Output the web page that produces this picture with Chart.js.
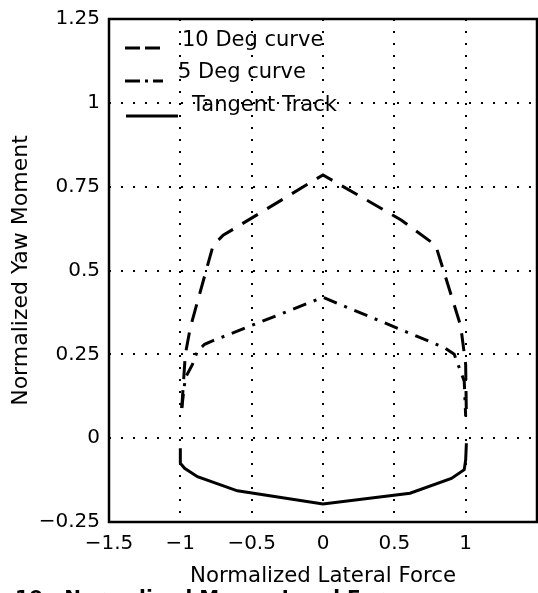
<!DOCTYPE html>
<html>
<head>
<meta charset="utf-8">
<script src="https://cdn.jsdelivr.net/npm/chart.js@4.4.1/dist/chart.umd.min.js"></script>
<style>
  html, body { margin: 0; padding: 0; background: #fff; overflow: hidden; }
  canvas { display: block; }
</style>
</head>
<body>
<canvas id="envelopeChart" width="538" height="593"></canvas>
<script>
// Yaw moment / lateral force envelopes (normalized)
const tenDegX = [-0.99, -0.965, -0.93, -0.77, -0.70, 0.00, 0.55, 0.79, 0.965, 1.00, 1.005];
const tenDegY = [0.09, 0.25, 0.33, 0.575, 0.605, 0.785, 0.65, 0.575, 0.335, 0.22, 0.065];

const fiveDegX = [-0.99, -0.965, -0.915, -0.88, -0.83, -0.775, 0.00, 0.85, 0.92, 0.99, 1.00];
const fiveDegY = [0.09, 0.18, 0.22, 0.26, 0.28, 0.29, 0.42, 0.27, 0.25, 0.17, 0.065];

const tangentX = [-1.00, -1.00, -0.97, -0.88, -0.60, 0.00, 0.61, 0.90, 0.99, 1.00, 1.005];
const tangentY = [-0.03, -0.075, -0.09, -0.115, -0.157, -0.196, -0.164, -0.12, -0.094, -0.065, -0.015];

const seriesLabels = ['10 Deg curve', '5 Deg curve', 'Tangent Track'];

const xTicks = [-1.5, -1, -0.5, 0, 0.5, 1];
const yTicks = [-0.25, 0, 0.25, 0.5, 0.75, 1, 1.25];

const FONT = '"DejaVu Sans", sans-serif';

function toPoints(xs, ys) {
    return xs.map((x, i) => ({ x: x, y: ys[i] }));
}

function fmt(v) {
    return String(v).replace('-', '\u2212');
}

// Box around the plot area
const framePlugin = {
    id: 'frame',
    afterDatasetsDraw(chart) {
        const { ctx, chartArea: a } = chart;
        ctx.save();
        ctx.strokeStyle = '#000';
        ctx.lineWidth = 2.5;
        ctx.strokeRect(a.left, a.top, a.right - a.left, a.bottom - a.top);
        ctx.restore();
    }
};

// Legend drawn inside the axes, no box
const legendLayout = [
    { x0: 16, x1: 51, lineY: 29, textX: 73, textY: 22 },
    { x0: 16, x1: 54, lineY: 62, textX: 69, textY: 54 },
    { x0: 17, x1: 69, lineY: 97, textX: 83, textY: 87 }
];

const insideLegend = {
    id: 'insideLegend',
    afterDraw(chart) {
        const { ctx, chartArea: a } = chart;
        ctx.save();
        chart.data.datasets.forEach((ds, i) => {
            const p = legendLayout[i];
            ctx.strokeStyle = ds.borderColor;
            ctx.lineWidth = ds.borderWidth;
            ctx.setLineDash(ds.legendDash || []);
            ctx.beginPath();
            ctx.moveTo(a.left + p.x0, a.top + p.lineY);
            ctx.lineTo(a.left + p.x1, a.top + p.lineY);
            ctx.stroke();
            ctx.setLineDash([]);
            ctx.fillStyle = '#000';
            ctx.font = '21px ' + FONT;
            ctx.textBaseline = 'middle';
            ctx.textAlign = 'left';
            ctx.fillText(ds.label, a.left + p.textX, a.top + p.textY);
        });
        ctx.restore();
    }
};

// Figure caption under the axes (runs off the page)
const captionPlugin = {
    id: 'caption',
    afterDraw(chart) {
        const { ctx } = chart;
        ctx.save();
        ctx.fillStyle = '#000';
        ctx.font = 'bold 20px ' + FONT;
        ctx.textBaseline = 'alphabetic';
        ctx.fillText('10.  Normalized Moment and Force', 15, 604);
        ctx.restore();
    }
};

const ctx = document.getElementById('envelopeChart').getContext('2d');

new Chart(ctx, {
    type: 'scatter',
    data: {
        datasets: [
            {
                label: seriesLabels[0],
                data: toPoints(tenDegX, tenDegY),
                showLine: true,
                borderColor: '#000',
                borderWidth: 3,
                borderDash: [18, 11],
                legendDash: [15, 5],
                pointRadius: 0,
                tension: 0
            },
            {
                label: seriesLabels[1],
                data: toPoints(fiveDegX, fiveDegY),
                showLine: true,
                borderColor: '#000',
                borderWidth: 3,
                borderDash: [14, 8, 3, 8],
                legendDash: [15, 5, 3, 5],
                pointRadius: 0,
                tension: 0
            },
            {
                label: seriesLabels[2],
                data: toPoints(tangentX, tangentY),
                showLine: true,
                borderColor: '#000',
                borderWidth: 3,
                pointRadius: 0,
                tension: 0
            }
        ]
    },
    options: {
        responsive: false,
        animation: false,
        layout: { padding: { left: 0, right: 1, top: 19, bottom: 0 } },
        plugins: {
            legend: { display: false },
            tooltip: { enabled: false }
        },
        scales: {
            x: {
                type: 'linear',
                min: -1.5,
                max: 1.5,
                afterFit(scale) {
                    scale.height = 71;
                    scale.paddingLeft = 0;
                    scale.paddingRight = 0;
                },
                afterBuildTicks(scale) {
                    scale.ticks = xTicks.concat([1.5]).map(v => ({ value: v }));
                },
                ticks: {
                    color: '#000',
                    font: { family: FONT, size: 20 },
                    padding: 10,
                    maxRotation: 0,
                    callback: v => (xTicks.includes(v) ? fmt(v) : '')
                },
                grid: {
                    color: '#000',
                    lineWidth: 2,
                    drawTicks: false
                },
                border: { display: false, dash: [2, 10] },
                title: {
                    display: true,
                    text: 'Normalized Lateral Force',
                    color: '#000',
                    font: { family: FONT, size: 21.3 },
                    padding: { top: 0, bottom: 4 }
                }
            },
            y: {
                type: 'linear',
                min: -0.25,
                max: 1.25,
                afterFit(scale) {
                    scale.width = 109;
                    scale.paddingTop = 0;
                    scale.paddingBottom = 0;
                },
                afterBuildTicks(scale) {
                    scale.ticks = yTicks.map(v => ({ value: v }));
                },
                ticks: {
                    color: '#000',
                    font: { family: FONT, size: 20 },
                    padding: 9,
                    callback: v => fmt(v)
                },
                grid: {
                    color: '#000',
                    lineWidth: 2,
                    drawTicks: false
                },
                border: { display: false, dash: [2, 10] },
                title: {
                    display: true,
                    text: 'Normalized Yaw Moment',
                    color: '#000',
                    font: { family: FONT, size: 22 },
                    padding: { top: 8, bottom: 0 }
                }
            }
        }
    },
    plugins: [framePlugin, insideLegend, captionPlugin]
});
</script>
</body>
</html>
